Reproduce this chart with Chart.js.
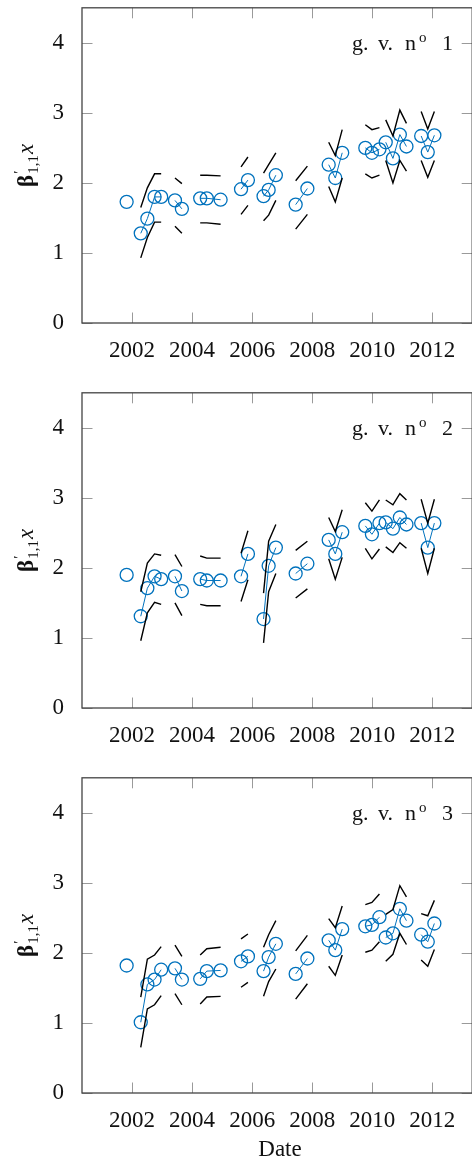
<!DOCTYPE html>
<html>
<head>
<meta charset="utf-8">
<script src="https://cdn.jsdelivr.net/npm/chart.js@4.4.1/dist/chart.umd.min.js"></script>
<style>
  html, body { margin: 0; padding: 0; overflow: hidden; background: #fff; }
  canvas { display: block; }
</style>
</head>
<body>
<canvas id="panel1" width="480" height="385"></canvas>
<canvas id="panel2" width="480" height="385"></canvas>
<canvas id="panel3" width="480" height="390"></canvas>
<script>
// observation dates (decimal years), null separates the groups
const dates = [2001.82, null, 2002.29, 2002.51, 2002.75, 2002.97, null, 2003.43, 2003.66, null,
  2004.27, 2004.49, 2004.95, null, 2005.63, 2005.86, null, 2006.38, 2006.55, 2006.79, null,
  2007.45, 2007.84, null, 2008.55, 2008.77, 2009.00, null, 2009.77, 2009.99, 2010.24, null,
  2010.45, 2010.69, 2010.92, 2011.14, null, 2011.63, 2011.85, 2012.07];

const xTicks = [2002, 2004, 2006, 2008, 2010, 2012];
const yTicks = [0, 1, 2, 3, 4];

// g. v. no 1
const est1 = [1.73, null, 1.28, 1.49, 1.80, 1.80, null, 1.75, 1.63, null, 1.78, 1.78, 1.76, null, 1.91, 2.04, null,
  1.81, 1.90, 2.11, null, 1.69, 1.92, null, 2.26, 2.07, 2.43, null, 2.50, 2.43, 2.48, null,
  2.58, 2.35, 2.69, 2.52, null, 2.67, 2.44, 2.68];
const upper1 = [null, null, 1.65, 1.93, 2.13, 2.13, null, 2.07, 1.99, null, 2.11, 2.11, 2.10, null, 2.23, 2.37, null,
  2.14, 2.26, 2.43, null, 2.03, 2.24, null, 2.58, 2.39, 2.76, null, 2.83, 2.76, 2.79, null,
  2.90, 2.67, 3.04, 2.85, null, 3.02, 2.77, 3.02];
const lower1 = [null, null, 0.93, 1.22, 1.44, 1.44, null, 1.38, 1.28, null, 1.43, 1.43, 1.41, null, 1.55, 1.68, null,
  1.46, 1.54, 1.75, null, 1.34, 1.55, null, 1.95, 1.73, 2.07, null, 2.13, 2.07, 2.11, null,
  2.32, 2.00, 2.32, 2.17, null, 2.32, 2.08, 2.32];

// g. v. no 2
const est2 = [1.90, null, 1.31, 1.71, 1.88, 1.84, null, 1.88, 1.67, null, 1.84, 1.82, 1.82, null, 1.88, 2.20, null,
  1.27, 2.03, 2.29, null, 1.92, 2.06, null, 2.40, 2.20, 2.51, null, 2.60, 2.48, 2.64, null,
  2.65, 2.56, 2.72, 2.62, null, 2.64, 2.29, 2.64];
const upper2 = [null, null, 1.66, 2.07, 2.20, 2.18, null, 2.19, 2.02, null, 2.17, 2.14, 2.14, null, 2.21, 2.53, null,
  1.64, 2.38, 2.62, null, 2.25, 2.38, null, 2.72, 2.52, 2.83, null, 2.93, 2.81, 2.97, null,
  2.97, 2.90, 3.06, 2.97, null, 2.98, 2.64, 2.98];
const lower2 = [null, null, 0.96, 1.36, 1.51, 1.48, null, 1.50, 1.32, null, 1.48, 1.46, 1.46, null, 1.52, 1.83, null,
  0.93, 1.66, 1.92, null, 1.57, 1.70, null, 2.13, 1.84, 2.15, null, 2.28, 2.13, 2.27, null,
  2.30, 2.22, 2.36, 2.28, null, 2.28, 1.92, 2.28];

// g. v. no 3
const est3 = [1.82, null, 1.01, 1.55, 1.62, 1.76, null, 1.78, 1.62, null, 1.63, 1.74, 1.75, null, 1.88, 1.95, null,
  1.74, 1.94, 2.13, null, 1.70, 1.92, null, 2.18, 2.04, 2.34, null, 2.38, 2.40, 2.51, null,
  2.22, 2.28, 2.63, 2.46, null, 2.26, 2.16, 2.42];
const upper3 = [null, null, 1.37, 1.91, 1.97, 2.09, null, 2.11, 1.95, null, 1.97, 2.06, 2.08, null, 2.20, 2.27, null,
  2.08, 2.26, 2.46, null, 2.03, 2.25, null, 2.49, 2.36, 2.67, null, 2.69, 2.72, 2.84, null,
  2.55, 2.62, 2.96, 2.80, null, 2.56, 2.53, 2.75];
const lower3 = [null, null, 0.65, 1.20, 1.26, 1.39, null, 1.42, 1.26, null, 1.27, 1.37, 1.38, null, 1.51, 1.58, null,
  1.38, 1.59, 1.77, null, 1.34, 1.56, null, 1.81, 1.68, 1.97, null, 2.01, 2.04, 2.16, null,
  1.88, 1.98, 2.28, 2.12, null, 1.90, 1.81, 2.05];

const BLUE = '#0072bd';
const SERIF = '"Liberation Serif", "Times New Roman", serif';

function toPoints(values) {
  return dates.map((d, i) => ({ x: d === null ? dates[i - 1] : d, y: values[i] }));
}

// frame, inward ticks, panel label and axis titles
const framePlugin = {
  id: 'frame',
  afterDraw(chart, args, opts) {
    const { ctx, chartArea: a, scales: { x, y } } = chart;
    const len = 10.5;
    ctx.save();
    ctx.strokeStyle = '#9a9a9a';
    ctx.lineWidth = 1;
    ctx.beginPath();
    xTicks.forEach(v => {
      const px = Math.round(x.getPixelForValue(v)) + 0.5;
      ctx.moveTo(px, a.bottom); ctx.lineTo(px, a.bottom - len);
      ctx.moveTo(px, a.top); ctx.lineTo(px, a.top + len);
    });
    yTicks.forEach(v => {
      const py = Math.round(y.getPixelForValue(v)) + 0.5;
      ctx.moveTo(a.left, py); ctx.lineTo(a.left + len, py);
      ctx.moveTo(a.right, py); ctx.lineTo(a.right - len, py);
    });
    ctx.stroke();

    ctx.strokeStyle = '#444';
    ctx.lineWidth = 1.3;
    ctx.strokeRect(a.left, a.top, a.right - a.left, a.bottom - a.top);

    // panel label: g. v. n^o k
    ctx.fillStyle = '#111';
    ctx.textBaseline = 'alphabetic';
    ctx.textAlign = 'left';
    const base = a.top + 42;
    const big = '22px ' + SERIF, small = '15px ' + SERIF;
    ctx.font = big;
    ctx.fillText('g.', 352, base);
    ctx.fillText('v.', 378, base);
    ctx.fillText('n', 405, base);
    ctx.fillText(String(opts.num), 442, base);
    ctx.font = small;
    ctx.fillText('o', 419, base - 8);

    // x title
    if (opts.xTitle) {
      ctx.font = '23px ' + SERIF;
      ctx.textAlign = 'center';
      ctx.textBaseline = 'middle';
      ctx.fillText(opts.xTitle, 280, a.bottom + 57);
      ctx.textAlign = 'left';
      ctx.textBaseline = 'alphabetic';
    }

    // y title: beta'_{1,1} x
    ctx.translate(33, (a.top + a.bottom) / 2);
    ctx.rotate(-Math.PI / 2);
    const fB = 'bold 23px ' + SERIF, fS = '15px ' + SERIF, fX = 'italic 23px ' + SERIF;
    ctx.font = fB; const wb = ctx.measureText('\u03b2').width;
    ctx.font = fS; const ws = ctx.measureText('1,1').width;
    ctx.font = fX; const wx = ctx.measureText('x').width;
    const total = wb + ws + 2 + wx;
    let cx = -total / 2;
    ctx.font = fB; ctx.fillText('\u03b2', cx, 0); cx += wb;
    ctx.font = fS; ctx.fillText('\u2032', cx + 1, -9); ctx.fillText('1,1', cx + 1, 5); cx += ws + 2;
    ctx.font = fX; ctx.fillText('x', cx, 0);
    ctx.restore();
  }
};

function makePanel(id, num, est, upper, lower, xTitle) {
  const canvas = document.getElementById(id);
  const h = canvas.height;
  return new Chart(canvas.getContext('2d'), {
    type: 'line',
    data: {
      datasets: [
        { data: toPoints(upper), borderColor: '#000', borderWidth: 1.4, pointRadius: 0, fill: false, spanGaps: false },
        { data: toPoints(lower), borderColor: '#000', borderWidth: 1.4, pointRadius: 0, fill: false, spanGaps: false },
        {
          data: toPoints(est), borderColor: BLUE, borderWidth: 1, spanGaps: false, fill: false,
          pointRadius: 6.5, pointBorderWidth: 1.3, pointBorderColor: BLUE,
          pointBackgroundColor: 'rgba(0,0,0,0)'
        }
      ]
    },
    options: {
      responsive: false,
      animation: false,
      events: [],
      layout: { padding: { top: 6, right: 6, left: 0, bottom: 0 } },
      scales: {
        x: {
          type: 'linear',
          min: 2000.333,
          max: 2013.33,
          grid: { display: false },
          border: { display: false },
          afterBuildTicks: s => { s.ticks = xTicks.map(v => ({ value: v })); },
          afterFit: s => { s.height = h - 6 - 317; s.paddingLeft = 0; s.paddingRight = 0; },
          ticks: {
            padding: 6, color: '#111', maxRotation: 0, autoSkip: false,
            font: { family: SERIF, size: 23 },
            callback: v => String(v)
          }
        },
        y: {
          min: 0,
          max: 4.5,
          grid: { display: false },
          border: { display: false },
          afterBuildTicks: s => { s.ticks = yTicks.map(v => ({ value: v })); },
          afterFit: s => { s.width = 82; s.paddingTop = 0; s.paddingBottom = 0; },
          ticks: {
            padding: 10, color: '#111',
            font: { family: SERIF, size: 23 },
            callback: v => String(v)
          }
        }
      },
      plugins: {
        legend: { display: false },
        tooltip: { enabled: false },
        frame: { num: num, xTitle: xTitle }
      }
    },
    plugins: [framePlugin]
  });
}

makePanel('panel1', 1, est1, upper1, lower1, null);
makePanel('panel2', 2, est2, upper2, lower2, null);
makePanel('panel3', 3, est3, upper3, lower3, 'Date');
</script>
</body>
</html>
